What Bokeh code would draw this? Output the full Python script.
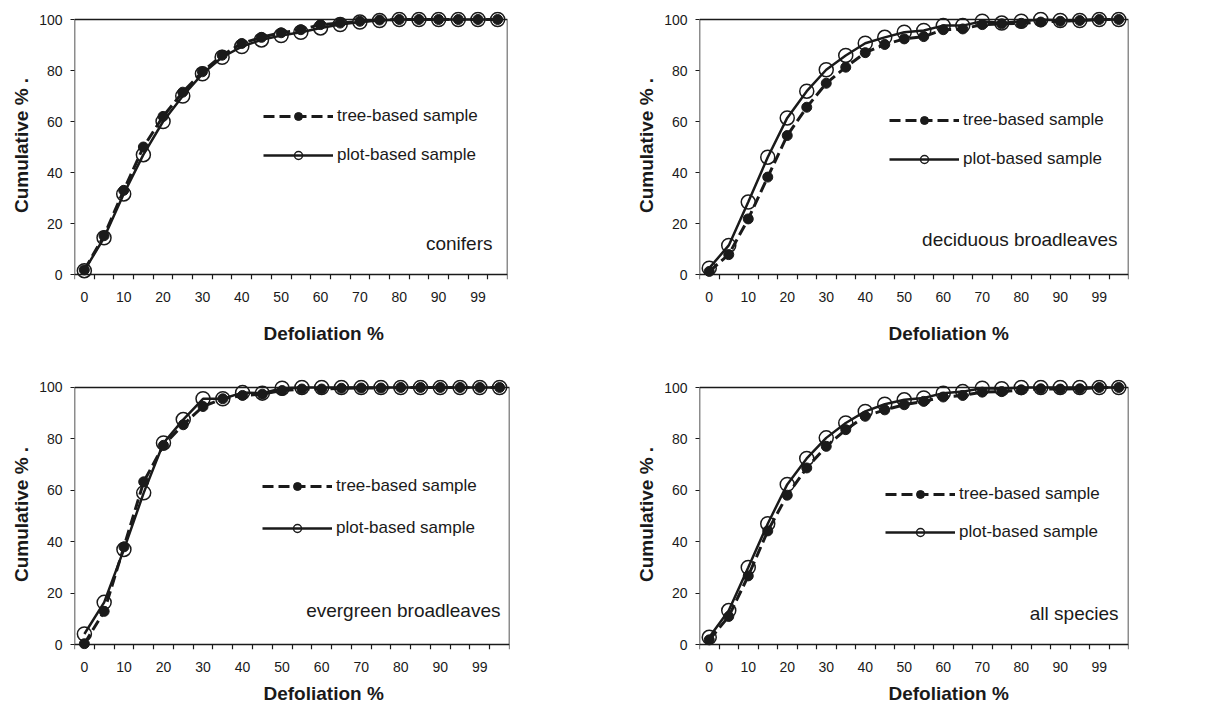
from bokeh.plotting import figure
from bokeh.models import (Range1d, FixedTicker, BoxAnnotation, Legend, LegendItem, Label,
                          LinearAxis, Title)
from bokeh.layouts import column, row
from bokeh.embed import file_html
from bokeh.resources import INLINE

# ---------------- data ----------------
categories = [0, 5, 10, 15, 20, 25, 30, 35, 40, 45, 50, 55, 60, 65, 70, 75, 80, 85, 90, 95, 99, 100]
y_ticks = [0, 20, 40, 60, 80, 100]

conifers_tree = [1.8, 15.2, 33, 50, 62, 71.5, 79.5, 86, 90.6, 93, 94.8, 96, 98, 98.6, 99.3, 99.8, 100, 100, 100, 100, 100, 100]
conifers_plot = [1.5, 14.4, 31.6, 47, 60, 70, 78.7, 85.2, 89.4, 92, 93.7, 95, 96.7, 98, 99, 99.6, 100, 100, 100, 100, 100, 100]

deciduous_tree = [1.2, 7.8, 21.8, 38.2, 54.5, 65.6, 75, 81.3, 87, 90.2, 92.4, 93.3, 96, 96.3, 98, 98.3, 98.5, 99, 99.3, 99.6, 100, 100]
deciduous_plot = [2.5, 11.4, 28.4, 46, 61.4, 71.9, 80.3, 85.9, 90.7, 93, 95, 95.7, 97.6, 97.6, 99.3, 98.6, 99.3, 100, 99.6, 99.6, 100, 100]

evergreen_tree = [0.3, 12.9, 38, 63.3, 77.5, 85.5, 92.6, 95.6, 96.9, 97.4, 98.8, 99.4, 99.4, 99.7, 99.8, 99.8, 100, 100, 100, 100, 100, 100]
evergreen_plot = [4.1, 16.4, 37, 59, 78.4, 87.5, 95.6, 95.6, 98, 97.8, 99.7, 100, 100, 100, 100, 100, 100, 100, 100, 100, 100, 100]

all_tree = [1.8, 10.9, 26.7, 44.2, 58.1, 68.7, 77.1, 83.6, 88.8, 91.3, 93.3, 94.6, 96.3, 96.9, 98.2, 98.4, 99.1, 99.5, 99.4, 99.5, 100, 100]
all_plot = [2.8, 13.2, 30, 47, 62.3, 72.4, 80.4, 86.2, 90.7, 93.5, 95.2, 95.9, 97.8, 98.4, 99.7, 99.5, 100, 100, 100, 100, 100, 100]

panel_names = ["conifers", "deciduous broadleaves", "evergreen broadleaves", "all species"]
series_labels = ["tree-based sample", "plot-based sample"]
x_title = "Defoliation %"
y_title = "Cumulative % ."

FONT = "Liberation Sans"
INK = "#1a1a1a"


def panel(tree, plot, name, fig_w, fig_h, left, right, top0, bottom0,
          leg_x, leg_row2_center, leg_spacing, name_dx, name_dy, title_standoff):
    n = len(categories)
    xs = list(range(n))
    ppu = (bottom0 - top0) / 100.0
    frame_top = top0 - 8
    frame_bottom = bottom0 + 5
    y_end = 100 + (top0 - frame_top) / ppu
    y_start = -(frame_bottom - bottom0) / ppu

    p = figure(width=fig_w, height=fig_h, output_backend="svg", toolbar_location=None,
               x_range=Range1d(-0.5, n - 0.5), y_range=Range1d(y_start, y_end),
               min_border_left=left, min_border_right=fig_w - right,
               min_border_top=frame_top, min_border_bottom=fig_h - frame_bottom)
    p.outline_line_color = None
    p.grid.visible = False
    p.background_fill_color = "white"
    p.border_fill_color = "white"

    label_ticks = xs[::2]
    overrides = {i: str(categories[i]) for i in label_ticks}

    # tick marks hanging from the y = 0 line
    xa = p.xaxis[0]
    xa.fixed_location = 0
    xa.ticker = FixedTicker(ticks=label_ticks, minor_ticks=[i - 0.5 for i in range(n + 1)])
    xa.axis_line_color = None
    xa.major_tick_line_color = None
    xa.major_tick_in = 0
    xa.major_tick_out = 0
    xa.minor_tick_line_color = INK
    xa.minor_tick_line_width = 1.2
    xa.minor_tick_in = 0
    xa.minor_tick_out = 5
    xa.major_label_text_alpha = 0

    # tick labels
    xl = LinearAxis(ticker=FixedTicker(ticks=label_ticks))
    xl.major_label_overrides = overrides
    xl.axis_line_color = None
    xl.major_tick_line_color = None
    xl.minor_tick_line_color = None
    xl.major_tick_in = 0
    xl.major_tick_out = 0
    xl.major_label_standoff = 12
    xl.major_label_text_font = FONT
    xl.major_label_text_font_size = "14px"
    xl.major_label_text_color = INK
    p.add_layout(xl, "below")

    # x title, set right of the frame centre as in the original
    p.add_layout(Title(text=x_title, align="left", offset=189, standoff=title_standoff,
                       vertical_align="bottom", text_font=FONT, text_font_size="19px",
                       text_font_style="bold", text_color=INK), "below")

    ya = p.yaxis[0]
    ya.ticker = FixedTicker(ticks=y_ticks)
    ya.axis_line_color = None
    ya.major_tick_line_color = INK
    ya.major_tick_line_width = 1.2
    ya.major_tick_in = 0
    ya.major_tick_out = 4
    ya.minor_tick_line_color = None
    ya.major_label_standoff = 8
    ya.major_label_text_font = FONT
    ya.major_label_text_font_size = "14px"
    ya.major_label_text_color = INK
    ya.axis_label = y_title
    ya.axis_label_text_font = FONT
    ya.axis_label_text_font_size = "19px"
    ya.axis_label_text_font_style = "bold"
    ya.axis_label_text_color = INK
    ya.axis_label_standoff = 4

    p.add_layout(BoxAnnotation(left=-0.5, right=n - 0.5, bottom=0, top=100,
                               fill_color=None, fill_alpha=0, line_color=INK,
                               line_alpha=1, line_width=1.5, level="underlay"))

    pl = p.line(xs, plot, line_color=INK, line_width=2.5)
    tl = p.line(xs, tree, line_color=INK, line_width=3, line_dash="11 5")
    pm = p.scatter(xs, plot, marker="circle", size=14, fill_color=None,
                   line_color=INK, line_width=1.5)
    tm = p.scatter(xs, tree, marker="circle", size=10, fill_color=INK,
                   line_color=INK, line_width=1)

    leg_y = frame_bottom - (leg_row2_center + 10)
    legend = Legend(items=[LegendItem(label=series_labels[0], renderers=[tl, tm]),
                           LegendItem(label=series_labels[1], renderers=[pl, pm])],
                    location=(leg_x, leg_y), glyph_width=70, glyph_height=20,
                    label_standoff=4, spacing=leg_spacing, padding=0, margin=0,
                    border_line_color=None, background_fill_color=None,
                    label_text_font=FONT, label_text_font_size="17px",
                    label_text_color=INK)
    p.add_layout(legend)

    p.add_layout(Label(x=n - 0.5, y=0, x_offset=-name_dx, y_offset=name_dy, text=name,
                       text_align="right", text_baseline="middle", text_font=FONT,
                       text_font_size="19px", text_color=INK))
    return p


TOP_H = 364
BOT_H = 350
p1 = panel(conifers_tree, conifers_plot, panel_names[0], 610, TOP_H, 74, 507, 19, 274,
           189, 155, 19, 15, 31, 32)
p2 = panel(deciduous_tree, deciduous_plot, panel_names[1], 610, TOP_H, 89, 518, 19, 274,
           190, 159, 19, 11, 35, 32)
p3 = panel(evergreen_tree, evergreen_plot, panel_names[2], 610, BOT_H, 74, 509,
           386 - TOP_H, 644 - TOP_H, 188, 528 - TOP_H, 22, 9, 34, 12)
p4 = panel(all_tree, all_plot, panel_names[3], 610, BOT_H, 89, 518,
           387 - TOP_H, 644 - TOP_H, 186, 532 - TOP_H, 18, 10, 31, 12)

layout = column(row(p1, p2), row(p3, p4))
open("out.html", "w").write(file_html(layout, INLINE))
